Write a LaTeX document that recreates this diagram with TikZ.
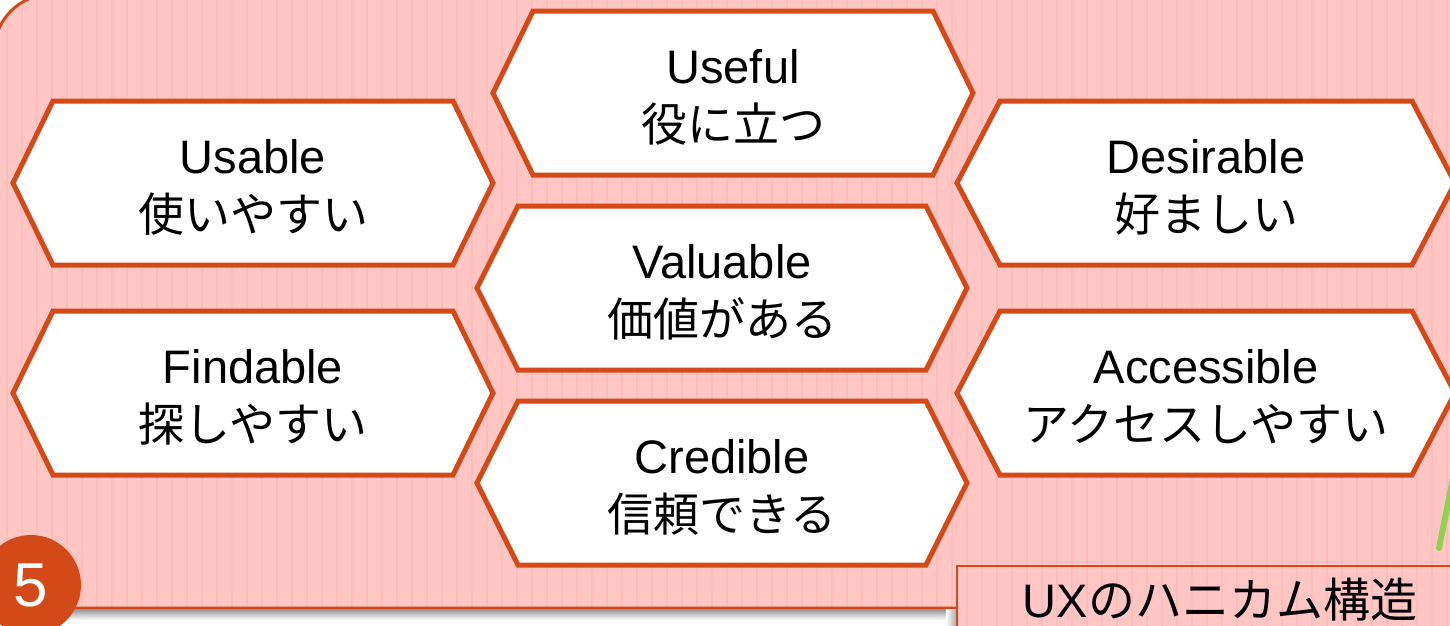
\documentclass[tikz,border=0pt]{standalone}
\usepackage{fontspec}
\setmainfont{Liberation Sans}
\newfontfamily\cjk{Noto Sans CJK JP}
\definecolor{hexborder}{RGB}{211,74,24}
\definecolor{panelpink}{RGB}{255,198,196}
\definecolor{stripepink}{RGB}{253,189,187}
\definecolor{leafgreen}{RGB}{146,208,80}
\tikzset{
  hexline/.style={draw=hexborder, line width=5pt, fill=white, line join=miter},
  hextext/.style={align=center, font=\fontsize{47}{58}\selectfont, inner sep=0pt, text=black},
  stripeline/.style={draw=stripepink, line width=2.5pt},
}
\newcommand\hexcell[7]{%
  \draw[hexline] (#2-#4,#3) -- (#2-#4+#5,#3-82) -- (#2+#4-#5,#3-82) -- (#2+#4,#3) -- (#2+#4-#5,#3+82) -- (#2-#4+#5,#3+82) -- cycle;
  \node[hextext] (#1) at (#2,#3+4) {#6\\{\cjk\fontsize{46}{58}\selectfont #7}};
}
\begin{document}
\begin{tikzpicture}[x=1pt,y=-1pt]
\useasboundingbox (0,0) rectangle (1450,625);
% panel
\fill[panelpink, rounded corners=58pt] (-6,-6) rectangle (1520,608);
\begin{scope}
  \clip[rounded corners=58pt] (-6,-6) rectangle (1520,608);
  \foreach \x in {7,22,...,1450} \draw[stripeline] (\x,-10) -- (\x,612);
\end{scope}
\draw[hexborder, line width=3pt, rounded corners=58pt] (-6,-6) rectangle (1520,608);
\shade[top color=black!40, bottom color=white] (0,609.5) rectangle (956,620);
% hexagons
\hexcell{useful}{733}{93}{240}{40}{Useful}{役に立つ}
\hexcell{usable}{253}{183}{240}{40}{Usable}{使いやすい}
\hexcell{desirable}{1206}{183}{249}{43}{Desirable}{好ましい}
\hexcell{valuable}{722}{288}{245}{41}{Valuable}{価値がある}
\hexcell{findable}{253}{393}{240}{40}{Findable}{探しやすい}
\hexcell{accessible}{1206}{393}{249}{43}{Accessible}{アクセスしやすい}
\hexcell{credible}{722}{483}{245}{41}{Credible}{信頼できる}
% green stroke
\coordinate (g1) at (1439,548);
\coordinate (g2) at (1453,478);
\draw[leafgreen, line width=6pt, line cap=round] (g1) -- (g2);
% caption box
\shade[left color=white, right color=black!35] (946,609) rectangle (957,625);
\fill[panelpink] (957,566) rectangle (1470,640);
\begin{scope}
  \clip (957,566) rectangle (1470,640);
  \foreach \x in {7,22,...,1450} \draw[stripeline] (\x,560) -- (\x,640);
\end{scope}
\draw[hexborder, line width=2.5pt] (957,566) rectangle (1470,640);
\node[inner sep=0pt, anchor=base, font=\fontsize{47}{56}\selectfont] (caption) at (1220,617) {UX{\cjk のハニカム構造}};
% number badge
\node[circle, fill=hexborder, minimum size=100pt, inner sep=0pt, text=white, font=\fontsize{62}{62}\selectfont] (num) at (31,585) {5};
\end{tikzpicture}
\end{document}
